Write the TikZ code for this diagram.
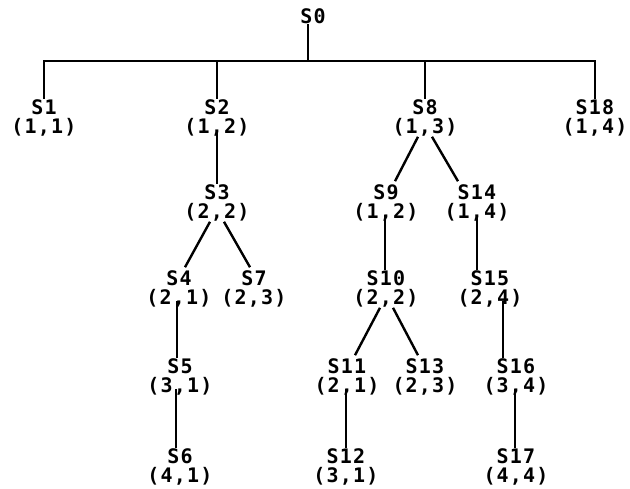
\documentclass[tikz,border=0pt]{standalone}
\usepackage{fontspec}
\newfontfamily\lpfont{DejaVu Sans Mono}[LetterSpace=6]
\begin{document}
\begin{tikzpicture}[x=1pt,y=-1pt,
  st/.style={align=center,inner sep=0pt,font=\lpfont\bfseries\fontsize{20}{19.5}\selectfont},
  ln/.style={line width=2.4pt,black},
  bar/.style={line width=2.8pt,black}]
\useasboundingbox[fill=white] (0,0) rectangle (630,488);
% nodes
\node[st] (S0) at (313,16) {S0};
\node[st] (S1) at (44,118) {S1\\(1,1)};
\node[st] (S2) at (217,118) {S2\\(1,2)};
\node[st] (S8) at (425,118) {S8\\(1,3)};
\node[st] (S18) at (595,118) {S18\\(1,4)};
\node[st] (S3) at (217,203) {S3\\(2,2)};
\node[st] (S9) at (386,203) {S9\\(1,2)};
\node[st] (S14) at (477,203) {S14\\(1,4)};
\node[st] (S4) at (179,289) {S4\\(2,1)};
\node[st] (S7) at (254,289) {S7\\(2,3)};
\node[st] (S10) at (386,289) {S10\\(2,2)};
\node[st] (S15) at (490,289) {S15\\(2,4)};
\node[st] (S5) at (180,377) {S5\\(3,1)};
\node[st] (S11) at (347,377) {S11\\(2,1)};
\node[st] (S13) at (425,377) {S13\\(2,3)};
\node[st] (S16) at (516,377) {S16\\(3,4)};
\node[st] (S6) at (180,467) {S6\\(4,1)};
\node[st] (S12) at (346,467) {S12\\(3,1)};
\node[st] (S17) at (516,467) {S17\\(4,4)};
% top bar
\coordinate (B) at (308,61);
\draw[ln] ([xshift=-5pt]S0.south) -- (B);
\draw[bar] (B) -| (S1.north);
\draw[bar] (B) -| (S2.north);
\draw[bar] (B) -| (S8.north);
\draw[bar] (B) -| (S18.north);
% verticals
\draw[ln] ([yshift=7pt]S2.south) -- (S3.north);
\draw[ln] ([xshift=-1pt,yshift=7pt]S9.south) -- ([xshift=-1pt]S10.north);
\draw[ln] ([yshift=7pt]S14.south) -- ([xshift=-13pt]S15.north);
\draw[ln] ([xshift=13pt,yshift=7pt]S15.south) -- ([xshift=-13pt]S16.north);
\draw[ln] ([xshift=-1pt,yshift=7pt]S16.south) -- ([xshift=-1pt]S17.north);
\draw[ln] ([xshift=-2pt,yshift=7pt]S4.south) -- ([xshift=-3pt]S5.north);
\draw[ln] ([xshift=-4pt,yshift=7pt]S5.south) -- ([xshift=-4pt]S6.north);
\draw[ln] ([xshift=-1pt,yshift=7pt]S11.south) -- (S12.north);
% diagonals
\draw[ln] ([xshift=-7pt]S3.south) -- ([xshift=6pt,yshift=3pt]S4.north);
\draw[ln] ([xshift=7pt]S3.south) -- ([xshift=-4pt,yshift=3pt]S7.north);
\draw[ln] ([xshift=-7pt]S8.south) -- ([xshift=9pt,yshift=3pt]S9.north);
\draw[ln] ([xshift=7pt]S8.south) -- ([xshift=-19pt,yshift=3pt]S14.north);
\draw[ln] ([xshift=-6pt]S10.south) -- ([xshift=8pt,yshift=3pt]S11.north);
\draw[ln] ([xshift=7pt]S10.south) -- ([xshift=-7pt,yshift=3pt]S13.north);
\end{tikzpicture}
\end{document}
